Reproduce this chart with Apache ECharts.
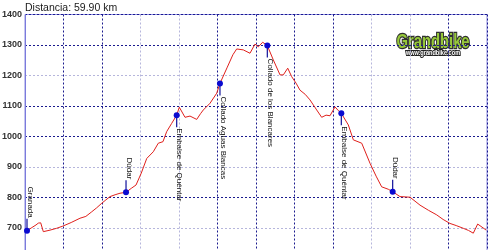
<!DOCTYPE html>
<html>
<head>
<meta charset="utf-8">
<script src="https://cdn.jsdelivr.net/npm/echarts@6/dist/echarts.min.js"></script>
<style>html,body{margin:0;padding:0;background:#fff}#c{width:500px;height:250px}</style>
</head>
<body>
<div id="c"></div>
<script>
const totalDistance = '59.90';
const profileKm = [0.26,0.8,1.43,1.73,2.04,2.38,3.25,4.1,4.9,6.0,7.14,7.9,8.66,9.3,9.96,10.5,11.04,11.7,12.34,13.12,13.8,14.42,15.1,15.81,16.66,17.31,17.92,18.4,19.05,19.7,20.04,20.78,21.43,22.3,22.8,23.16,24.03,24.9,25.32,26.23,27.0,27.49,28.35,29.22,29.87,30.3,30.87,31.47,32.25,33.12,33.55,34.12,34.64,35.2,35.71,36.4,37.01,37.88,38.53,39.1,39.61,40.26,40.69,41.08,41.99,42.64,43.73,44.81,45.6,46.32,47.18,47.75,48.7,50.0,51.3,52.4,53.47,54.3,55.19,56.0,56.92,57.6,58.22,58.79,59.9];
const profileElev = [691,700,710,716,717,688,693,699,706,718,732,738,753,766,781,792,803,809,814,817,830,841,880,928,950,978,983,1016,1043,1070,1096,1063,1067,1056,1075,1087,1109,1142,1174,1225,1268,1287,1284,1273,1303,1294,1309,1298,1251,1202,1202,1224,1196,1175,1152,1138,1120,1087,1063,1070,1068,1097,1085,1076,1038,989,978,912,870,835,827,819,803,801,775,758,743,728,715,708,699,692,683,713,693];
const waypointNames = ['Granada','Dúdar','Embalse de Quéntar','Collado Aguas Blancas','Collado de los Blancares','Embalse de Quéntar','Dúdar'];
const waypointKm = [0.26,13.12,19.7,25.32,31.47,41.08,47.75];
const waypointElev = [691,817,1070,1174,1298,1076,819];
const waypointLabelAbove = [true,true,false,false,false,false,true];

const D = '#1a1a8e', L = '#b6b6dc';
const chart = echarts.init(document.getElementById('c'), null, {renderer:'canvas'});
chart.setOption({
  animation:false,
  backgroundColor:'#ffffff',
  grid:{left:25, top:14.5, width:462, height:244, outerBoundsMode:'none', containLabel:false, show:true, borderColor:'#8c8ce0', borderWidth:1, backgroundColor:'#fff'},
  xAxis:{type:'value', min:0, max:60, interval:5,
    axisLine:{show:false}, axisTick:{show:false}, axisLabel:{show:false},
    splitLine:{show:true, lineStyle:{color:[D,D,D,L,L,D,D,D,D,L,L,D,D], type:[2,2], width:1}}},
  yAxis:{type:'value', min:600, max:1400, interval:100,
    axisLine:{show:true, lineStyle:{color:'#7b7bdc'}}, axisTick:{show:false},
    axisLabel:{color:'#333', fontWeight:'bold', fontSize:9, fontFamily:'Liberation Sans', margin:3, verticalAlign:'middle', padding:[0,0,4,0], formatter:function(v){return String(v);}},
    splitLine:{show:true, lineStyle:{color:[D,L,D,L,D,D,L,D,D], type:[2,2], width:1}}},
  graphic:[
    {type:'text', x:25, y:8, style:{text:'Distancia: ' + totalDistance + ' km', font:'10.5px "Liberation Sans"', fill:'#1a1a1a', verticalAlign:'middle'}},
    {type:'rect', shape:{x:394, y:32, width:79, height:25}, style:{fill:'#fff'}},
    {type:'text', x:433, y:42, scaleX:0.74, style:{text:'Grandbike', font:'bold 20px "Liberation Sans"', fill:'#96c83a', stroke:'#2f2f2f', lineWidth:2.5, strokeFirst:true, align:'center', verticalAlign:'middle'}},
    {type:'text', x:433, y:53.5, scaleX:0.8, style:{text:'www.grandbike.com', font:'bold 7px "Liberation Sans"', fill:'#fff', stroke:'#222', lineWidth:2, strokeFirst:true, align:'center', verticalAlign:'middle'}}
  ],
  series:[
    {type:'line', data:profileKm.map((k,i)=>[k, profileElev[i]]), symbol:'none', smooth:false,
      lineStyle:{color:'#e0201c', width:1}, z:3},
    {type:'custom', clip:false, z:4,
      data:waypointKm.map((k,i)=>[k, waypointElev[i]]),
      renderItem:function(params, api){
        const p = api.coord([api.value(0), api.value(1)]);
        const i = params.dataIndex;
        const above = waypointLabelAbove[i];
        const stem = 12;
        const y2 = above ? p[1]-stem : p[1]+stem;
        return {type:'group', children:[
          {type:'line', shape:{x1:p[0], y1:p[1], x2:p[0], y2:y2}, style:{stroke:'#10109a', lineWidth:1.2}},
          {type:'circle', shape:{cx:p[0], cy:p[1], r:3}, style:{fill:'#0a0ad0'}},
          {type:'text', x:p[0]+3, y: above ? y2-1 : y2+1, rotation:-Math.PI/2,
            style:{text:waypointNames[i], font:'8px "Liberation Sans"', fill:'#111', align: above?'right':'left', verticalAlign:'middle'}}
        ]};
      }}
  ]
});
</script>
</body>
</html>
